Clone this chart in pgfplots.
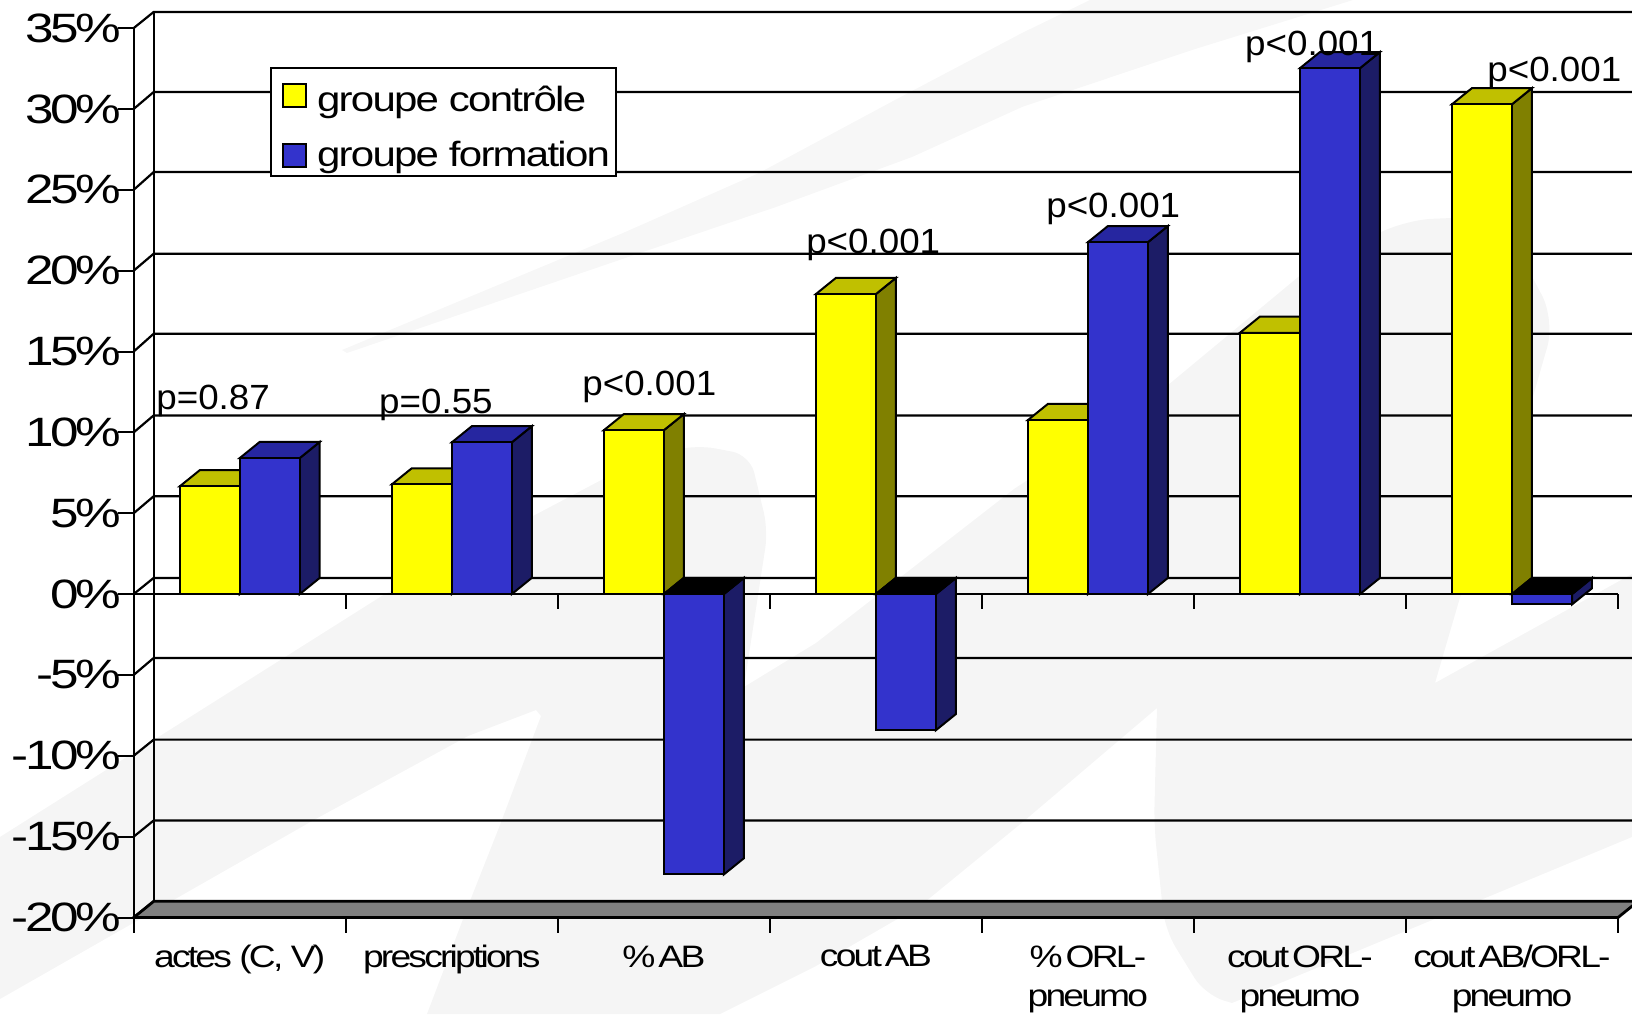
\documentclass[border=0pt]{standalone}
\usepackage{fontspec}
\usepackage{pgfplots}
\pgfplotsset{compat=1.18}
\setmainfont{Liberation Sans}
\newfontfamily\tickfont[FakeStretch=1.25,LetterSpace=-8.5]{Liberation Sans}
\newfontfamily\catfont[FakeStretch=1.2,LetterSpace=-9]{Liberation Sans}
\newfontfamily\legfont[FakeStretch=1.2,LetterSpace=-5]{Liberation Sans}
\newfontfamily\pfont[FakeStretch=1.05]{Liberation Sans}
\definecolor{wash}{HTML}{F5F5F5}
\definecolor{washtop}{HTML}{F7F7F7}
\definecolor{ctlfront}{HTML}{FFFF00}
\definecolor{ctlside}{HTML}{808000}
\definecolor{ctltop}{HTML}{C0C000}
\definecolor{frmfront}{HTML}{3333CC}
\definecolor{frmside}{HTML}{1C1C66}
\definecolor{frmtop}{HTML}{2626A0}
% depth of the 3D box, in data units
\def\dx{0.0943}
\def\dy{1}
\def\bw{0.283}
\def\sp{\hskip.1em\relax}
\newcommand{\gridline}[2]{\addplot[black,line width=1.1pt,forget plot] coordinates {(-0.5,#1) (-0.4057,#2) (6.5943,#2)};}
% side and top of one bar: left edge, value, side colour, top colour
\newcommand{\faces}[4]{%
  \pgfmathsetmacro\xr{#1+\bw}%
  \pgfmathsetmacro\xlb{#1+\dx}%
  \pgfmathsetmacro\xrb{#1+\bw+\dx}%
  \pgfmathsetmacro\vb{#2+\dy}%
  \pgfmathsetmacro\vt{max(#2,0)}%
  \pgfmathsetmacro\vtb{\vt+\dy}%
  \addplot[draw=black,line width=1pt,fill=#3,forget plot] coordinates {(\xr,0) (\xrb,\dy) (\xrb,\vb) (\xr,#2)} -- cycle;
  \addplot[draw=black,line width=1pt,fill=#4,forget plot] coordinates {(#1,\vt) (\xlb,\vtb) (\xrb,\vtb) (\xr,\vt)} -- cycle;
}
\newcommand{\plabel}[2]{\node[anchor=base west,inner sep=0pt,font=\fontsize{17.5}{20}\selectfont\pfont] at (axis cs:#1) {#2};}
\begin{document}
\begin{tikzpicture}
\path[use as bounding box,clip] (0,0) rectangle (816pt,507pt);
% faint slide background, in pixels of the reference
\begin{scope}[x=0.5pt,y=-0.5pt,yshift=507pt]
\fill[washtop] (342,350) -- (623,233) -- (759,173) -- (895,100) -- (1022,33) -- (1090,0) -- (1353,0) -- (1192,50) -- (1022,107)
  -- (912,157) -- (776,207) -- (640,253) -- (347,353) -- cycle;
\fill[wash] (0,837) -- (385,594) -- (645,457) [rounded corners=9pt] -- (697,445) -- (750,455) -- (768,530) [sharp corners] -- (744,687)
  -- (816,643) -- (1014,489) -- (1150,400) -- (1303,273) [rounded corners=14pt] -- (1404,220) -- (1500,216) -- (1555,320) [sharp corners] -- (1532,400)
  -- (1461,594) -- (1435,683) -- (1632,574) -- (1632,837) -- (1466,906) -- (1232,1003) [rounded corners=10pt] -- (1205,995) -- (1165,930) -- (1154,825) [sharp corners] -- (1157,708)
  -- (1024,821) -- (920,906) -- (816,966) -- (720,1014) -- (427,1014)
  -- (468,906) -- (500,825) -- (541,716) -- (536,710) -- (468,736) -- (312,821) -- (177,898) -- (0,999) -- cycle;
\end{scope}
\begin{axis}[
  at={(66.85pt,48.25pt)},
  anchor=south west,
  scale only axis,
  width=742.15pt,
  height=444.7pt,
  xmin=-0.5, xmax=6.5,
  ymin=-20, ymax=35,
  clip=false,
  axis y line=left,
  axis x line=bottom,
  axis line style={-,line width=1pt},
  tick align=outside,
  major tick length=7.8pt,
  tick style={black,line width=1pt},
  xtick={0,...,6},
  xtick style={draw=none},
  xticklabels={{actes (C, V)},prescriptions,\%\sp AB,cout\sp AB,{\%\sp ORL-\\pneumo},{cout\sp ORL-\\pneumo},{cout\sp AB/ORL-\\pneumo}},
  xticklabel style={font=\fontsize{15.5}{19.5}\selectfont\catfont,align=center,anchor=north,inner sep=0pt,yshift=-6pt},
  ytick={-20,-15,...,35},
  yticklabels={-20\%,-15\%,-10\%,-5\%,0\%,5\%,10\%,15\%,20\%,25\%,30\%,35\%},
  yticklabel style={font=\fontsize{20.5}{22}\selectfont\tickfont,inner sep=0pt,anchor=east,xshift=1.5pt},
  legend cell align=left,
  legend style={at={(axis cs:0.143,32.58)},anchor=north west,draw=black,line width=1pt,fill=white,
    font=\fontsize{17.5}{18}\selectfont\legfont,row sep=9pt,inner xsep=1pt,inner ysep=1.5pt},
]
% back wall
\gridline{-20}{-19}
\gridline{-15}{-14}
\gridline{-10}{-9}
\gridline{-5}{-3.95}
\gridline{0}{1}
\gridline{5}{6.05}
\gridline{10}{11.05}
\gridline{15}{16.1}
\gridline{20}{21.05}
\gridline{25}{26.1}
\gridline{30}{31.05}
\gridline{35}{36}
\addplot[black,line width=1pt,forget plot] coordinates {(-0.4057,-19) (-0.4057,36)};
% floor
\addplot[draw=black,line width=1.4pt,fill=black!50,forget plot] coordinates {(-0.5,-20) (-0.4057,-19) (6.5943,-19) (6.5,-20)} -- cycle;
% zero line and the ticks on the category axis
\addplot[black,line width=1.1pt,forget plot] coordinates {(-0.5,0) (6.5,0)};
\addplot[black,line width=1pt,forget plot,unbounded coords=jump] coordinates {
  (0.5,0) (0.5,-0.93) (0.5,nan)
  (1.5,0) (1.5,-0.93) (1.5,nan)
  (2.5,0) (2.5,-0.93) (2.5,nan)
  (3.5,0) (3.5,-0.93) (3.5,nan)
  (4.5,0) (4.5,-0.93) (4.5,nan)
  (5.5,0) (5.5,-0.93) (5.5,nan)
  (6.5,0) (6.5,-0.93) (6.5,nan)
  (-0.5,-20) (-0.5,-20.93) (-0.5,nan)
  (0.5,-20) (0.5,-20.93) (0.5,nan)
  (1.5,-20) (1.5,-20.93) (1.5,nan)
  (2.5,-20) (2.5,-20.93) (2.5,nan)
  (3.5,-20) (3.5,-20.93) (3.5,nan)
  (4.5,-20) (4.5,-20.93) (4.5,nan)
  (5.5,-20) (5.5,-20.93) (5.5,nan)
  (6.5,-20) (6.5,-20.93)
};
% groupe controle
\faces{-0.283}{6.66}{ctlside}{ctltop}
\faces{0.717}{6.78}{ctlside}{ctltop}
\faces{1.717}{10.13}{ctlside}{ctltop}
\faces{2.717}{18.55}{ctlside}{ctltop}
\faces{3.717}{10.76}{ctlside}{ctltop}
\faces{4.717}{16.16}{ctlside}{ctltop}
\faces{5.717}{30.29}{ctlside}{ctltop}
\addplot[ybar,bar width=0.283,bar shift=-0.1415,draw=black,line width=1pt,fill=ctlfront,forget plot] coordinates {
  (0,6.66) (1,6.78) (2,10.13) (3,18.55) (4,10.76) (5,16.16) (6,30.29)};
% groupe formation
\faces{0}{8.41}{frmside}{frmtop}
\faces{1}{9.38}{frmside}{frmtop}
\faces{2}{-17.34}{frmside}{black}
\faces{3}{-8.42}{frmside}{black}
\faces{4}{21.76}{frmside}{frmtop}
\faces{5}{32.52}{frmside}{frmtop}
\faces{6}{-0.64}{frmside}{black}
\addplot[ybar,bar width=0.283,bar shift=0.1415,draw=black,line width=1pt,fill=frmfront,forget plot] coordinates {
  (0,8.41) (1,9.38) (2,-17.34) (3,-8.42) (4,21.76) (5,32.52) (6,-0.64)};
\addlegendimage{legend image code/.code={\path (0pt,0pt); \draw[black,line width=1pt,fill=ctlfront] (4.5pt,-5.75pt) rectangle (16pt,5.75pt);}}
\addlegendentry{\rule{0pt}{18.3pt}\hskip3pt groupe contrôle}
\addlegendimage{legend image code/.code={\path (0pt,0pt); \draw[black,line width=1pt,fill=frmfront] (4.5pt,-5.75pt) rectangle (16pt,5.75pt);}}
\addlegendentry{\hskip3pt groupe formation}
% p values
\plabel{-0.395,11.42}{p=0.87}
\plabel{0.656,11.17}{p=0.55}
\plabel{1.614,12.28}{p<0.001}
\plabel{2.67,21.06}{p<0.001}
\plabel{3.802,23.29}{p<0.001}
\plabel{4.74,33.31}{p<0.001}
\plabel{5.882,31.7}{p<0.001}
\end{axis}
\end{tikzpicture}
\end{document}
